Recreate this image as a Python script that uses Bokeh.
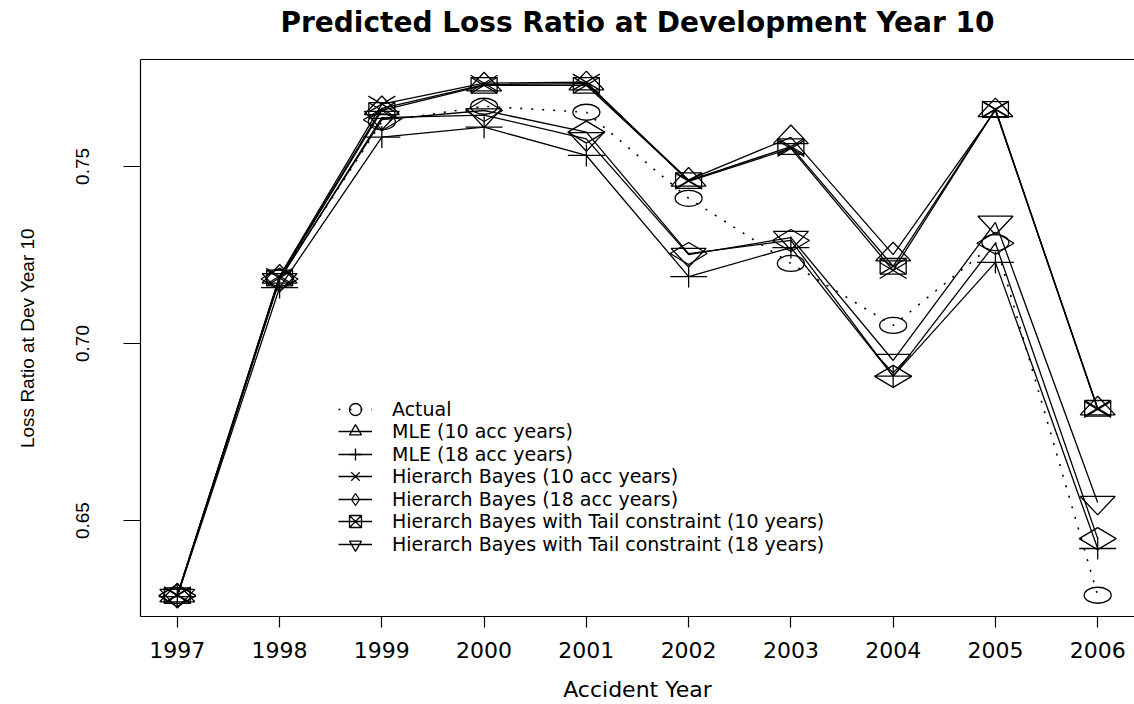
from bokeh.plotting import figure
from bokeh.models import (Range1d, FixedTicker, LinearAxis, Legend, LegendItem,
                          PrintfTickFormatter)
from bokeh.embed import file_html
from bokeh.resources import INLINE

# ---------------- data ----------------
years = [1997, 1998, 1999, 2000, 2001, 2002, 2003, 2004, 2005, 2006]
actual = [0.6288, 0.7185, 0.7626, 0.7670, 0.7653, 0.7410, 0.7226, 0.7051, 0.7285, 0.6289]
mle_10 = [0.6288, 0.7188, 0.7664, 0.7731, 0.7734, 0.7462, 0.7582, 0.7251, 0.7658, 0.6816]
mle_18 = [0.6285, 0.7158, 0.7583, 0.7611, 0.7531, 0.7189, 0.7271, 0.6908, 0.7229, 0.6421]
hb_10 = [0.6290, 0.7190, 0.7676, 0.7735, 0.7738, 0.7458, 0.7551, 0.7206, 0.7662, 0.6814]
hb_18 = [0.6288, 0.7182, 0.7632, 0.7658, 0.7597, 0.7254, 0.7291, 0.6907, 0.7283, 0.6449]
hbt_10 = [0.6288, 0.7185, 0.7658, 0.7729, 0.7729, 0.7460, 0.7556, 0.7218, 0.7661, 0.6817]
hbt_18 = [0.6288, 0.7180, 0.7638, 0.7645, 0.7578, 0.7251, 0.7299, 0.6952, 0.7342, 0.6551]

series_names = ["Actual", "MLE (10 acc years)", "MLE (18 acc years)",
                "Hierarch Bayes (10 acc years)", "Hierarch Bayes (18 acc years)",
                "Hierarch Bayes with Tail constraint (10 years)",
                "Hierarch Bayes with Tail constraint (18 years)"]
x_ticks = years
y_ticks = [0.65, 0.70, 0.75]
title_text = "Predicted Loss Ratio at Development Year 10"
x_label = "Accident Year"
y_label = "Loss Ratio at Dev Year 10"

# ---------------- layout ----------------
W, H = 1134, 704
BL, BR, BT, BB = 140, 0, 59, 88
FW, FH = W - BL - BR, H - BT - BB
X0, X1 = 1996.64, 2006.36
Y0, Y1 = 0.6229, 0.7802
PX = FW / (X1 - X0)
PY = FH / (Y1 - Y0)

HFONT = "DejaVu Sans"
VFONT = "Liberation Sans"
LW = 1.3

p = figure(width=W, height=H, x_range=Range1d(X0, X1), y_range=Range1d(Y0, Y1),
           output_backend="svg", toolbar_location=None,
           min_border_left=BL, min_border_right=BR, min_border_top=BT,
           min_border_bottom=BB)
p.title.visible = False
p.grid.visible = False
p.outline_line_color = None
p.background_fill_color = "white"

# x axis
xa = p.xaxis[0]
xa.ticker = FixedTicker(ticks=x_ticks)
xa.major_tick_out = 11
xa.major_tick_in = 0
xa.minor_tick_out = 0
xa.minor_tick_in = 0
xa.major_tick_line_width = 1.2
xa.axis_line_width = 1.2
xa.major_label_text_font = HFONT
xa.major_label_text_font_size = "22px"
xa.major_label_text_color = "black"
xa.major_label_standoff = 14
xa.axis_label = x_label
xa.axis_label_text_font = HFONT
xa.axis_label_text_font_size = "22px"
xa.axis_label_text_font_style = "normal"
xa.axis_label_text_color = "black"
xa.axis_label_standoff = 16

# y axis
ya = p.yaxis[0]
ya.ticker = FixedTicker(ticks=y_ticks)
ya.formatter = PrintfTickFormatter(format="%.2f")
ya.major_tick_out = 17
ya.major_tick_in = 0
ya.minor_tick_out = 0
ya.minor_tick_in = 0
ya.major_tick_line_width = 1.2
ya.axis_line_width = 1.2
ya.major_label_orientation = "vertical"
ya.major_label_text_font = VFONT
ya.major_label_text_font_size = "19px"
ya.major_label_text_color = "black"
ya.major_label_standoff = 34
ya.axis_label = y_label
ya.axis_label_text_font = VFONT
ya.axis_label_text_font_size = "19px"
ya.axis_label_text_font_style = "normal"
ya.axis_label_text_color = "black"
ya.axis_label_standoff = 36

# top border line, carrying the chart title as its axis label
top = LinearAxis(ticker=FixedTicker(ticks=[]), major_label_text_font_size="0px",
                 major_tick_out=0, major_tick_in=0, minor_tick_out=0, minor_tick_in=0,
                 major_label_standoff=0, axis_line_width=1.2,
                 axis_label=title_text, axis_label_text_font=HFONT,
                 axis_label_text_font_style="bold", axis_label_text_font_size="28px",
                 axis_label_text_color="black", axis_label_standoff=21)
p.add_layout(top, "above")

# ---------------- marker shapes (screen px offsets, y up) ----------------
def poly_offsets(xv, yv, pts):
    xs, ys = [], []
    for x, y in zip(xv, yv):
        xs.append([x + dx / PX for dx, dy in pts])
        ys.append([y + dy / PY for dx, dy in pts])
    return xs, ys

def seg_offsets(xv, yv, segs):
    xs, ys = [], []
    for x, y in zip(xv, yv):
        for seg in segs:
            xs.append([x + dx / PX for dx, dy in seg])
            ys.append([y + dy / PY for dx, dy in seg])
    return xs, ys

TRI_UP = [(0, 12.4), (17.5, -6.2), (-17.5, -6.2)]
TRI_DN = [(0, -12.4), (17.5, 6.2), (-17.5, 6.2)]
DIAM = [(0, 11), (18.5, 0), (0, -11), (-18.5, 0)]
BOX = [(-13, 7.8), (13, 7.8), (13, -7.8), (-13, -7.8)]
BOX_X = [[(-13, -7.8), (13, 7.8)], [(-13, 7.8), (13, -7.8)]]
XMARK = [[(-13.5, -8), (13.5, 8)], [(-13.5, 8), (13.5, -8)]]
PLUS = [[(-18.5, 0), (18.5, 0)], [(0, -11), (0, 11)]]

mk = dict(line_color="black", line_width=LW)

legend_items = []

def add_legend(name, line_r, marker):
    sr = p.scatter(years, [0.7] * len(years), marker=marker, size=17, fill_color=None,
                   line_color="black", line_width=LW, visible=False)
    legend_items.append(LegendItem(label=name, renderers=[line_r, sr]))

# Actual
r = p.line(years, actual, line_color="black", line_width=1.6, line_dash="2 9")
p.ellipse(x=years, y=actual, width=27, height=16, width_units="screen",
          height_units="screen", fill_color=None, **mk)
add_legend(series_names[0], r, "circle")

# MLE 10
r = p.line(years, mle_10, line_color="black", line_width=LW)
xs, ys = poly_offsets(years, mle_10, TRI_UP)
p.patches(xs, ys, fill_color=None, **mk)
add_legend(series_names[1], r, "triangle")

# MLE 18
r = p.line(years, mle_18, line_color="black", line_width=LW)
xs, ys = seg_offsets(years, mle_18, PLUS)
p.multi_line(xs, ys, **mk)
add_legend(series_names[2], r, "cross")

# HB 10
r = p.line(years, hb_10, line_color="black", line_width=LW)
xs, ys = seg_offsets(years, hb_10, XMARK)
p.multi_line(xs, ys, **mk)
add_legend(series_names[3], r, "x")

# HB 18
r = p.line(years, hb_18, line_color="black", line_width=LW)
xs, ys = poly_offsets(years, hb_18, DIAM)
p.patches(xs, ys, fill_color=None, **mk)
add_legend(series_names[4], r, "diamond")

# HBT 10
r = p.line(years, hbt_10, line_color="black", line_width=LW)
xs, ys = poly_offsets(years, hbt_10, BOX)
p.patches(xs, ys, fill_color=None, **mk)
xs, ys = seg_offsets(years, hbt_10, BOX_X)
p.multi_line(xs, ys, **mk)
add_legend(series_names[5], r, "square_x")

# HBT 18
r = p.line(years, hbt_18, line_color="black", line_width=LW)
xs, ys = poly_offsets(years, hbt_18, TRI_DN)
p.patches(xs, ys, fill_color=None, **mk)
add_legend(series_names[6], r, "inverted_triangle")

# legend: one single-row legend per entry, rows centred where the reference's are
ROW_MID, ROW_STEP, ROW_H = 476, 22.5, 30
for i, item in enumerate(legend_items):
    row_y = ROW_MID + ROW_STEP * (i - 3)
    off = (BT + FH) - row_y - ROW_H / 2
    lg = Legend(items=[item], location=(198, off), orientation="vertical",
                label_text_font=HFONT, label_text_font_size="19px",
                label_text_color="black", label_height=ROW_H, glyph_height=ROW_H,
                glyph_width=34, label_standoff=20, spacing=0, padding=0, margin=0,
                border_line_color=None, background_fill_alpha=0)
    p.add_layout(lg, "center")

open("out.html", "w").write(file_html(p, INLINE))
